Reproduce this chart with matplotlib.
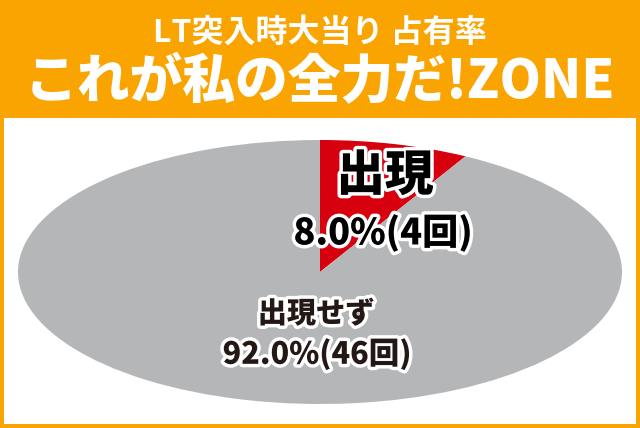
import matplotlib.pyplot as plt
import matplotlib.patheffects as pe
from matplotlib.patches import Rectangle

plt.rcParams['font.family'] = ['Noto Sans CJK JP', 'DejaVu Sans']

# データ
title_top = 'LT突入時大当り 占有率'
title_main = 'これが私の全力だ!ZONE'
labels = ['出現', '出現せず']
counts = [4, 46]
shares = [8.0, 92.0]
colors = ['#D7000F', '#B5B6B8']

orange = '#F9A400'
ink = '#231815'

W, H = 640, 428
fig = plt.figure(figsize=(W / 100, H / 100), dpi=100)
fig.patch.set_facecolor('white')

# 枠とヘッダー
bg = fig.add_axes([0, 0, 1, 1])
bg.set_xlim(0, W)
bg.set_ylim(H, 0)
bg.axis('off')
bg.add_patch(Rectangle((0, 0), W, H, facecolor=orange, edgecolor='none'))
bg.add_patch(Rectangle((4, 118), W - 8, H - 118 - 4, facecolor='white', edgecolor='none'))
bg.text(W / 2, 33, title_top, color='white', fontsize=23, fontweight='bold',
        ha='center', va='center')
bg.text(W / 2, 82, title_main, color='white', fontsize=38, fontweight='heavy',
        ha='center', va='center')

# 楕円の円グラフ（縦につぶす）
cx, cy, rx, ry = 320, 272, 302, 132
ax = fig.add_axes([(cx - rx) / W, (H - cy - ry) / H, 2 * rx / W, 2 * ry / H])
ax.pie(counts, colors=colors, startangle=90, counterclock=False,
       wedgeprops=dict(linewidth=0))
ax.set_aspect('auto')
ax.set_xlim(-1, 1)
ax.set_ylim(-1, 1)
ax.axis('off')

# ラベル（グラフの上に重ねる）
top = fig.add_axes([0, 0, 1, 1])
top.set_xlim(0, W)
top.set_ylim(H, 0)
top.axis('off')

outline = [pe.Stroke(linewidth=5, foreground='white'), pe.Normal()]

top.text(385, 176, labels[0], color='black', fontsize=35, fontweight='heavy',
         ha='center', va='center', path_effects=outline)
top.text(383, 233, f'{shares[0]:.1f}%({counts[0]}回)', color='black', fontsize=26,
         fontweight='heavy', ha='center', va='center', path_effects=outline)
top.text(316, 314, labels[1], color=ink, fontsize=21, fontweight='heavy',
         ha='center', va='center', path_effects=outline)
top.text(317, 354, f'{shares[1]:.1f}%({counts[1]}回)', color=ink, fontsize=22,
         fontweight='heavy', ha='center', va='center', path_effects=outline)

fig.savefig('out.png', dpi=100)
